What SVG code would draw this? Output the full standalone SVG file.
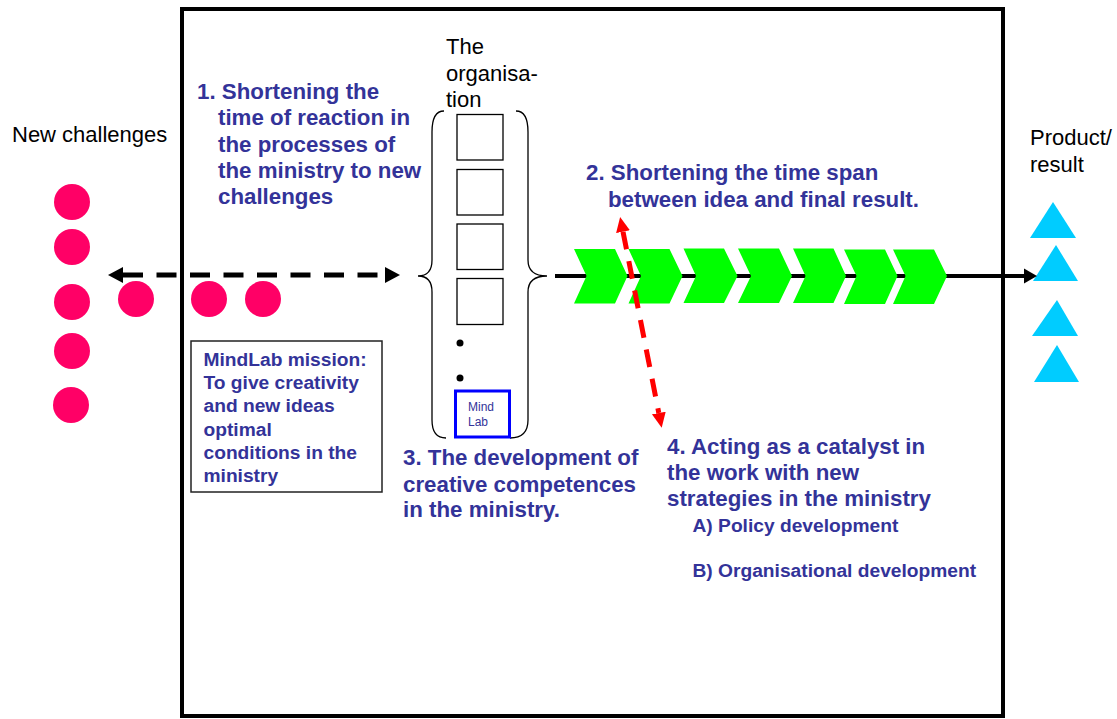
<svg xmlns="http://www.w3.org/2000/svg" width="1117" height="719" viewBox="0 0 1117 719">
<defs>
<style>
.t{font-family:"Liberation Sans",Arial,sans-serif;fill:#000;font-size:22px}
.b{font-family:"Liberation Sans",Arial,sans-serif;fill:#333399;font-weight:bold;font-size:22.3px}
.m{font-size:19.2px}
.s{font-size:19.2px}
.dot{fill:#FF0066}
.tri{fill:#00CCFF}
.chev{fill:#00FF00}
.box{fill:#fff;stroke:#000;stroke-width:1.3}
.brace{fill:none;stroke:#000;stroke-width:1.3}
</style>
<marker id="ahB" markerUnits="userSpaceOnUse" markerWidth="16" markerHeight="16" refX="0" refY="8" orient="auto-start-reverse" viewBox="0 0 16 16"><path d="M0,0 L15,8 L0,16 Z" fill="#000"/></marker>
<marker id="ahS" markerUnits="userSpaceOnUse" markerWidth="14" markerHeight="16" refX="0" refY="8" orient="auto" viewBox="0 0 14 16"><path d="M0,0.5 L13,8 L0,15.5 Z" fill="#000"/></marker>
<marker id="ahR" markerUnits="userSpaceOnUse" markerWidth="16" markerHeight="16" refX="0" refY="8" orient="auto-start-reverse" viewBox="0 0 16 16"><path d="M0,1 L15,8 L0,15 Z" fill="#FF0000"/></marker>
</defs>
<rect width="1117" height="719" fill="#fff"/>

<g id="frame">
<rect x="182" y="9" width="821" height="707" fill="none" stroke="#000" stroke-width="4"/>
</g>

<g id="new-challenges">
<text class="t" x="12" y="142">New challenges</text>
<circle class="dot" cx="72" cy="202" r="18"/>
<circle class="dot" cx="72" cy="247" r="18"/>
<circle class="dot" cx="72" cy="302" r="18"/>
<circle class="dot" cx="72" cy="351" r="18"/>
<circle class="dot" cx="71" cy="405" r="18"/>
<circle class="dot" cx="136" cy="299" r="18"/>
<circle class="dot" cx="209" cy="299" r="18"/>
<circle class="dot" cx="263" cy="299" r="18"/>
</g>

<g id="product-result">
<text class="t" x="1030" y="145">Product/</text>
<text class="t" x="1030" y="172">result</text>
<polygon class="tri" points="1053,202 1076,238 1030,238"/>
<polygon class="tri" points="1056,245 1078,281 1033,281"/>
<polygon class="tri" points="1057,300 1078,336 1032,336"/>
<polygon class="tri" points="1057,345 1079,382 1034,382"/>
</g>

<g id="organisation">
<text class="t" x="446" y="54">The</text>
<text class="t" x="446" y="81">organisa-</text>
<text class="t" x="446" y="107">tion</text>
<path class="brace" d="M444,111 C436,111 432,118 432,132 L432,260 C432,271 427,276 418,276 C427,276 432,281 432,292 L432,420 C432,432 437,438 446,438"/>
<path class="brace" d="M516,111 C524,111 528,118 528,132 L528,260 C528,271 535,276 547,276 C535,276 528,281 528,292 L528,420 C528,432 522,438 510,438"/>
<rect class="box" x="457" y="114.5" width="46" height="45.5"/>
<rect class="box" x="457" y="169.5" width="46" height="45.5"/>
<rect class="box" x="457" y="224" width="46" height="45.5"/>
<rect class="box" x="457" y="278.5" width="46" height="46"/>
<circle cx="460" cy="343" r="3.5" fill="#000"/>
<circle cx="460" cy="378" r="3.5" fill="#000"/>
</g>

<g id="mindlab">
<rect x="455.5" y="391" width="54" height="46" fill="#fff" stroke="#0000FF" stroke-width="3"/>
<text x="468" y="411" font-family="'Liberation Sans',Arial,sans-serif" font-size="12" fill="#333399">Mind</text>
<text x="468" y="426" font-family="'Liberation Sans',Arial,sans-serif" font-size="12" fill="#333399">Lab</text>
</g>

<g id="connectors">
<line x1="123" y1="275" x2="385" y2="275" stroke="#000" stroke-width="5" stroke-dasharray="20 13.5" marker-start="url(#ahB)" marker-end="url(#ahB)"/>
<line x1="555" y1="276" x2="1024" y2="276" stroke="#000" stroke-width="4" marker-end="url(#ahS)"/>
</g>

<g id="process-chevrons">
<polygon class="chev" points="574,249 615,249 627.5,276 615,303.5 574,303.5 586.5,276"/>
<polygon class="chev" points="628.5,249 669.5,249 682.5,276 669.5,303.5 628.5,303.5 641,276"/>
<polygon class="chev" points="683.5,248.5 724,248.5 737.5,276 724,303 683.5,303 696,276"/>
<polygon class="chev" points="738,248.5 779,248.5 792,276 779,303 738,303 751,276"/>
<polygon class="chev" points="793,248.5 833.5,248.5 846,276 833.5,303 793,303 805.5,276"/>
<polygon class="chev" points="844,249.5 885,249.5 897.5,276 885,304 844,304 856.5,276"/>
<polygon class="chev" points="893,249.5 934,249.5 947,276 934,304 893,304 905.5,276"/>
</g>

<g id="catalyst-arrow">
<line x1="623" y1="231.7" x2="658.8" y2="413" stroke="#FF0000" stroke-width="5" stroke-dasharray="18 12" marker-start="url(#ahR)" marker-end="url(#ahR)"/>
</g>

<g id="goal-1">
<text class="b" x="197" y="99">1. Shortening the</text>
<text class="b" x="218" y="125">time of reaction in</text>
<text class="b" x="218" y="151.5">the processes of</text>
<text class="b" x="218" y="178">the ministry to new</text>
<text class="b" x="218" y="204">challenges</text>
</g>

<g id="goal-2">
<text class="b" x="586" y="180">2. Shortening the time span</text>
<text class="b" x="608" y="206.5">between idea and final result.</text>
</g>

<g id="goal-3">
<text class="b" x="403" y="465">3. The development of</text>
<text class="b" x="403" y="491.5">creative competences</text>
<text class="b" x="403" y="517">in the ministry.</text>
</g>

<g id="goal-4">
<text class="b" x="667" y="454">4. Acting as a catalyst in</text>
<text class="b" x="667" y="480">the work with new</text>
<text class="b" x="667" y="506">strategies in the ministry</text>
<text class="b s" x="692.5" y="531.5">A) Policy development</text>
<text class="b s" x="692.5" y="576.5">B) Organisational development</text>
</g>

<g id="mission">
<rect x="191" y="341" width="191" height="151" fill="#fff" stroke="#222" stroke-width="1.5"/>
<text class="b m" x="203.5" y="366">MindLab mission:</text>
<text class="b m" x="203.5" y="389">To give creativity</text>
<text class="b m" x="203.5" y="412">and new ideas</text>
<text class="b m" x="203.5" y="436">optimal</text>
<text class="b m" x="203.5" y="459">conditions in the</text>
<text class="b m" x="203.5" y="482">ministry</text>
</g>
</svg>
